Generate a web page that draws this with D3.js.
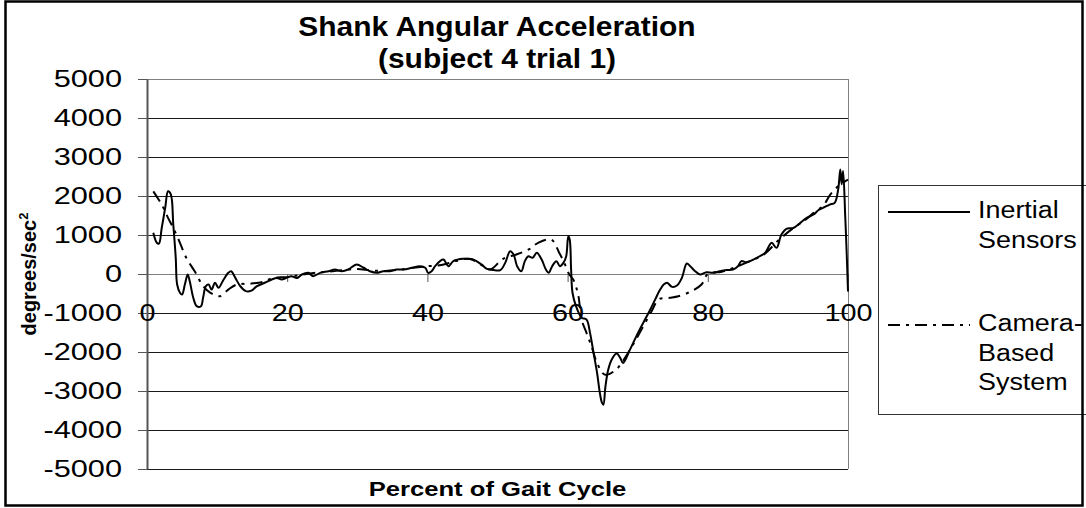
<!DOCTYPE html>
<html>
<head>
<meta charset="utf-8">
<script src="https://d3js.org/d3.v7.min.js"></script>
<style>
  body { margin: 0; background: #fff; }
  text { font-family: "Liberation Sans", Arial, sans-serif; fill: #000; }
</style>
</head>
<body>
<div id="chart"></div>
<script>
// percent of gait cycle + acceleration (deg/s^2)
const inertialPct = [0.9,1.4,1.7,2.1,2.6,3.0,3.4,3.75,4.1,4.3,4.7,5.0,5.4,5.8,6.1,6.6,7.1,7.7,8.0,8.4,8.8,9.2,9.7,10.2,10.8,11.6,12.0,12.6,13.3,14.1,14.9,15.7,16.8,17.8,18.5,19.2,19.9,20.6,21.4,22.1,23.0,23.7,24.7,25.9,26.8,27.8,28.7,29.9,30.9,31.8,32.8,33.7,34.7,35.6,36.6,37.8,38.9,39.7,40.1,40.6,41.1,41.8,42.3,43.0,43.7,45.1,46.5,47.7,48.5,49.4,50.4,51.1,51.8,52.3,52.8,53.4,53.9,54.4,55.0,55.6,56.3,56.9,57.3,57.8,58.4,58.9,59.4,59.8,60.1,60.3,60.5,60.7,61.2,62.0,62.7,63.2,63.7,64.2,64.6,64.9,65.1,65.4,65.8,66.3,67.0,67.5,67.9,68.9,69.8,70.8,71.8,72.5,73.2,73.7,74.2,74.9,75.6,76.3,77.0,77.5,78.2,78.9,79.8,80.7,81.7,82.7,83.6,84.3,84.8,85.5,86.5,87.4,88.2,89.1,89.8,90.5,91.2,92.2,93.2,94.1,95.1,95.8,96.7,97.4,98.1,98.6,98.9,99.1,99.3,99.6,99.8,100];
const inertialVal = [1056,800,780,1180,1700,2120,2040,1270,415,-270,-480,-525,-270,-13,-185,-610,-825,-825,-610,-310,-270,-400,-225,-355,-185,30,70,-100,-310,-440,-425,-310,-225,-140,-100,-140,-100,-55,-100,-13,30,-55,30,70,115,70,115,245,160,70,30,70,70,115,115,160,200,160,30,70,200,330,370,200,330,390,370,245,130,100,100,285,585,500,200,70,330,455,415,545,370,115,30,200,330,200,285,455,970,885,115,-480,-825,-1120,-1170,-1510,-2020,-2530,-3050,-3300,-3350,-2880,-2450,-2190,-2040,-2150,-2280,-1940,-1600,-1250,-910,-650,-400,-270,-225,-330,-295,-100,270,200,70,-13,45,30,70,100,115,200,330,300,370,455,545,800,670,1010,1160,1180,1310,1440,1525,1640,1720,1780,1825,2170,2680,2300,2640,1500,600,-450];

const cameraPct = [0.9,2.1,3.0,3.75,4.7,5.6,6.8,8.0,9.0,10.4,11.6,12.8,14.7,16.6,18.0,20,22,24,26,28,30,32,34,36,38,40,42,44,46,48,49,50.8,52.7,54.6,55.8,57.7,58.8,59.5,60.2,60.8,61.5,62.0,62.7,63.4,64.2,65.3,66.8,68,70,72,73,74.6,75.8,77.7,79.1,80,82,84,86,88,90,92,94,95.1,96.5,97.5,98.9,100];
const cameraVal = [2120,1780,1440,1180,800,415,70,-310,-480,-570,-400,-270,-250,-200,-100,-80,-20,30,60,100,130,90,80,110,160,200,230,330,390,200,120,390,500,645,800,880,545,300,0,-140,-525,-1170,-1510,-1850,-2280,-2580,-2470,-2200,-1600,-950,-650,-610,-570,-440,-270,0,60,180,330,500,850,1150,1400,1570,1760,2040,2300,2420];

const xTicks = [0, 20, 40, 60, 80, 100];
const yTicks = [-5000,-4000,-3000,-2000,-1000,0,1000,2000,3000,4000,5000];
const seriesNames = ["Inertial\nSensors", "Camera-\nBased\nSystem"];

const W = 1086, H = 508;

// image is stretched sideways, so text gets widened to match
function stretch(sel, k) {
  sel.each(function() {
    const w = this.getComputedTextLength();
    d3.select(this).attr("textLength", w * k).attr("lengthAdjust", "spacingAndGlyphs");
  });
}

let svg = d3.select("#chart").append("svg")
  .attr("width", W)
  .attr("height", H);

let x = d3.scaleLinear().domain([0, 100]).range([147, 848]);
let y = d3.scaleLinear().domain([-5000, 5000]).range([469, 79]);

// gridlines
svg.append("g")
  .selectAll("line")
  .data(yTicks)
  .enter().append("line")
    .attr("x1", x(0)).attr("x2", x(100))
    .attr("y1", d => Math.round(y(d)) + 0.5)
    .attr("y2", d => Math.round(y(d)) + 0.5)
    .attr("stroke", d => (d === 5000 || d === 0) ? "#808080" : "#1a1a1a")
    .attr("stroke-width", 1);

// right edge of plot
svg.append("line")
  .attr("x1", Math.round(x(100)) + 0.5).attr("x2", Math.round(x(100)) + 0.5)
  .attr("y1", y(5000)).attr("y2", y(-5000))
  .attr("stroke", "#808080");

// y axis
let yAxis = svg.append("g")
  .attr("transform", "translate(" + x(0) + ",0)")
  .call(d3.axisLeft(y).tickValues(yTicks).tickFormat(d => String(d))
    .tickSize(9).tickPadding(16).tickSizeOuter(0));
yAxis.select(".domain").attr("stroke", "#555").attr("stroke-width", 2);
yAxis.selectAll(".tick line").attr("stroke", "#555");
yAxis.selectAll(".tick text").style("font-size", "24px").attr("fill", "#000");
stretch(yAxis.selectAll(".tick text"), 1.28);

// x axis (crosses at 0)
let xAxis = svg.append("g")
  .attr("transform", "translate(0," + y(0) + ")")
  .call(d3.axisBottom(x).tickValues(xTicks).tickFormat(d => String(d))
    .tickSize(8).tickPadding(22).tickSizeOuter(0));
xAxis.select(".domain").remove();
xAxis.selectAll(".tick line").attr("stroke", "#555");
xAxis.selectAll(".tick text").style("font-size", "24px").attr("fill", "#000");
stretch(xAxis.selectAll(".tick text"), 1.2);

// lines
let curve = d3.line()
  .x(d => x(d[0]))
  .y(d => y(d[1]))
  .curve(d3.curveCatmullRom.alpha(0.5));

svg.append("path")
  .datum(cameraPct.map((p, i) => [p, cameraVal[i]]))
  .attr("fill", "none")
  .attr("stroke", "#000")
  .attr("stroke-width", 2)
  .attr("stroke-dasharray", "12,6,3,6")
  .attr("d", curve);

svg.append("path")
  .datum(inertialPct.map((p, i) => [p, inertialVal[i]]))
  .attr("fill", "none")
  .attr("stroke", "#000")
  .attr("stroke-width", 2)
  .attr("d", curve);

// title
let title = svg.append("text")
  .attr("x", 497)
  .attr("text-anchor", "middle")
  .style("font-size", "28px")
  .style("font-weight", "bold");
title.append("tspan").attr("x", 497).attr("y", 36).text("Shank Angular Acceleration");
title.append("tspan").attr("x", 497).attr("y", 68).text("(subject 4 trial 1)");
stretch(title.selectAll("tspan"), 1.07);

// axis titles
let xt = svg.append("text")
  .attr("x", (x(0) + x(100)) / 2)
  .attr("y", 496)
  .attr("text-anchor", "middle")
  .style("font-size", "20px")
  .style("font-weight", "bold")
  .text("Percent of Gait Cycle");
stretch(xt, 1.28);

let yt = svg.append("text")
  .attr("transform", "translate(35.5," + y(0) + ") rotate(-90)")
  .attr("text-anchor", "middle")
  .style("font-size", "20px")
  .style("font-weight", "bold");
yt.append("tspan").text("degrees/sec");
yt.append("tspan").attr("dy", "-0.6em").style("font-size", "13px").text("2");

// legend
let legend = svg.append("g");
legend.append("rect")
  .attr("x", 878.5).attr("y", 185.5)
  .attr("width", 230).attr("height", 229)
  .attr("fill", "#fff")
  .attr("stroke", "#333");

let legendY = [212, 325];
let legendEntries = legend.selectAll(".legend-entry")
  .data(seriesNames)
  .enter().append("g")
  .attr("class", "legend-entry")
  .attr("transform", (d, i) => "translate(0," + legendY[i] + ")");

legendEntries.append("line")
  .attr("x1", 888).attr("x2", 970)
  .attr("stroke", "#000")
  .attr("stroke-width", 2)
  .attr("stroke-dasharray", (d, i) => i === 0 ? null : "12,6,3,6");

legendEntries.append("text")
  .style("font-size", "23px")
  .each(function(d) {
    let t = d3.select(this);
    d.split("\n").forEach((s, j) => {
      t.append("tspan").attr("x", 978).attr("y", 6 + j * 29.5).text(s);
    });
  });
stretch(legendEntries.selectAll("tspan"), 1.17);

// outer frame
svg.append("rect")
  .attr("x", 5.5).attr("y", 1.5)
  .attr("width", 1077).attr("height", 504)
  .attr("fill", "none")
  .attr("stroke", "#000")
  .attr("stroke-width", 2.5);
</script>
</body>
</html>
